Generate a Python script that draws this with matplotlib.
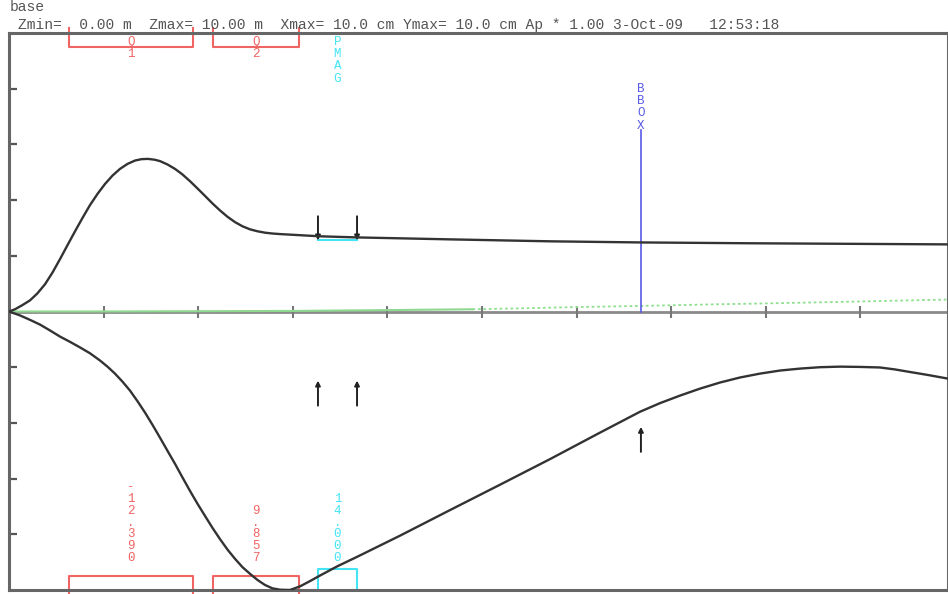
import numpy as np
import matplotlib.pyplot as plt

# horizontal beam envelope (z in m, half-width in cm)
z_x = [0.000, 0.063, 0.137, 0.222, 0.300, 0.381, 0.460, 0.539, 0.618, 0.698,
       0.777, 0.856, 0.935, 1.015, 1.094, 1.173, 1.253, 1.332, 1.400, 1.469,
       1.540, 1.596, 1.675, 1.755, 1.834, 1.913, 1.992, 2.072, 2.151, 2.230,
       2.310, 2.389, 2.468, 2.548, 2.627, 2.706, 2.785, 2.865, 2.970, 3.076,
       3.288, 3.679, 4.662, 5.719, 6.670, 7.833, 8.890, 9.926]
x_env = [0.00, 0.08, 0.22, 0.40, 0.65, 0.98, 1.40, 1.88, 2.38, 2.88,
         3.36, 3.82, 4.22, 4.58, 4.88, 5.12, 5.30, 5.42, 5.47, 5.48,
         5.45, 5.40, 5.28, 5.12, 4.92, 4.68, 4.42, 4.15, 3.88, 3.63,
         3.40, 3.21, 3.06, 2.95, 2.88, 2.83, 2.80, 2.78, 2.76, 2.74,
         2.70, 2.66, 2.59, 2.52, 2.48, 2.45, 2.43, 2.41]

# vertical beam envelope, drawn below the axis
z_y = [0.000, 0.116, 0.222, 0.328, 0.433, 0.539, 0.645, 0.751, 0.856, 0.962,
       1.041, 1.120, 1.200, 1.279, 1.358, 1.438, 1.517, 1.596, 1.675, 1.755,
       1.834, 1.913, 1.992, 2.072, 2.151, 2.230, 2.310, 2.389, 2.468, 2.548,
       2.627, 2.706, 2.785, 2.865, 2.970, 3.076, 3.182, 3.288, 3.470, 3.679,
       4.133, 4.662, 5.190, 5.719, 6.247, 6.670, 6.882, 7.093, 7.304, 7.516,
       7.727, 7.939, 8.150, 8.362, 8.573, 8.784, 8.996, 9.207, 9.365, 9.503,
       9.715, 9.926]
y_env = [0.00, -0.14, -0.30, -0.47, -0.68, -0.90, -1.09, -1.29, -1.50, -1.76,
         -1.98, -2.23, -2.52, -2.84, -3.22, -3.63, -4.07, -4.53, -5.00, -5.47,
         -5.96, -6.44, -6.90, -7.34, -7.77, -8.17, -8.55, -8.88, -9.18, -9.42,
         -9.64, -9.82, -9.94, -9.99, -10.00, -9.87, -9.68, -9.48, -9.15, -8.81,
         -8.05, -7.13, -6.22, -5.30, -4.35, -3.60, -3.29, -3.02, -2.77, -2.55,
         -2.37, -2.23, -2.12, -2.05, -2.00, -1.98, -1.99, -2.01, -2.08, -2.16,
         -2.28, -2.41]

# dispersion trace
z_d = [0.0, 1.0, 2.0, 3.0, 4.0, 4.9, 5.5, 6.0, 6.67, 7.5, 8.0, 9.0, 9.926]
disp = [0.0, 0.0, 0.01, 0.02, 0.05, 0.08, 0.12, 0.16, 0.20, 0.26, 0.29, 0.36, 0.43]

# beamline elements
quad_z0 = [0.634, 2.157]
quad_len = [1.311, 0.909]
quad_name = ['Q1', 'Q2']
quad_field = ['-12.390', '9.857']
pmag_z0 = 3.266
pmag_len = 0.413
pmag_field = '14.000'
bbox_z = 6.68

# aperture marks (z, tail, tip)
arrows = [(3.266, 3.42, 2.55), (3.679, 3.42, 2.55),
          (3.266, -3.38, -2.48), (3.679, -3.38, -2.48),
          (6.68, -5.04, -4.14)]

mono = 'Liberation Mono'
red = '#f06464'
cyan = '#44e4f4'
blue = '#5a5ae6'

fig = plt.figure(figsize=(9.48, 5.94), dpi=100)
ax = fig.add_axes([9 / 948, 4 / 594, 939 / 948, 557 / 594])
ax.set_xlim(0, 9.926)
ax.set_ylim(-10, 10)

for s in ax.spines.values():
    s.set_color('#666666')
    s.set_linewidth(2.2)
ax.set_xticks([])
ax.set_yticks([-8, -6, -4, -2, 2, 4, 6, 8])
ax.tick_params(axis='y', direction='in', length=6, width=1.6, color='#555555',
               labelleft=False)

# centre axis with metre ticks
ax.axhline(0, color='#8a8a8a', lw=2, zorder=1)
ax.plot(np.arange(1, 10), np.zeros(9), ls='none', marker='|', ms=8, mew=1.5,
        color='#777777', zorder=2)

z_d = np.array(z_d)
disp = np.array(disp)
ax.plot(z_d[z_d <= 4.9], disp[z_d <= 4.9], color='#8fd88f', lw=1.5, zorder=3)
ax.plot(z_d[z_d >= 4.9], disp[z_d >= 4.9], color='#8fe08f', lw=1.3, ls=(0, (1.5, 1.5)),
        zorder=3)

ax.plot(z_x, x_env, color='#333333', lw=1.7, zorder=4, solid_joinstyle='round')
ax.plot(z_y, y_env, color='#333333', lw=1.7, zorder=4, solid_joinstyle='round')

# quadrupoles
for z0, ln, name, fld in zip(quad_z0, quad_len, quad_name, quad_field):
    z1 = z0 + ln
    zc = z0 + ln / 2
    ax.plot([z0, z0, z1, z1], [10.18, 9.5, 9.5, 10.18], color=red, lw=1.5, clip_on=False)
    ax.plot([z0, z0, z1, z1], [-10.3, -9.5, -9.5, -10.3], color=red, lw=1.5, clip_on=False)
    for i, ch in enumerate(name):
        ax.text(zc, 9.68 - i * 0.45, ch, family=mono, fontsize=9, color=red,
                ha='center', va='center')
    for i, ch in enumerate(fld[::-1]):
        ax.text(zc, -8.85 + i * 0.424, ch, family=mono, fontsize=9, color=red,
                ha='center', va='center')

# bending magnet
pz1 = pmag_z0 + pmag_len
pzc = pmag_z0 + pmag_len / 2
ax.plot([pmag_z0, pz1], [2.55, 2.55], color=cyan, lw=1.5, zorder=3)
ax.plot([pmag_z0, pmag_z0, pz1, pz1], [-10.0, -9.24, -9.24, -10.0], color=cyan, lw=1.5)
for i, ch in enumerate('PMAG'):
    ax.text(pzc, 9.68 - i * 0.44, ch, family=mono, fontsize=9, color=cyan,
            ha='center', va='center')
for i, ch in enumerate(pmag_field[::-1]):
    ax.text(pzc, -8.85 + i * 0.424, ch, family=mono, fontsize=9, color=cyan,
            ha='center', va='center')

# slit box
ax.plot([bbox_z, bbox_z], [0, 6.5], color=blue, lw=1.2, zorder=3)
for i, ch in enumerate('BBOX'):
    ax.text(bbox_z, 7.99 - i * 0.44, ch, family=mono, fontsize=9, color=blue,
            ha='center', va='center')

for z, tail, tip in arrows:
    ax.annotate('', xy=(z, tip), xytext=(z, tail),
                arrowprops=dict(arrowstyle='-|>', color='#222222', lw=1.4,
                                mutation_scale=7, shrinkA=0, shrinkB=0))

fig.text(10 / 948, 1 - 7 / 594, 'base', family=mono, fontsize=10.5, color='#555555',
         ha='left', va='center')
fig.text(18 / 948, 1 - 25 / 594,
         'Zmin=  0.00 m  Zmax= 10.00 m  Xmax= 10.0 cm Ymax= 10.0 cm Ap * 1.00 3-Oct-09   12:53:18',
         family=mono, fontsize=10.5, color='#555555', ha='left', va='center')

fig.savefig('out.png', dpi=100)
